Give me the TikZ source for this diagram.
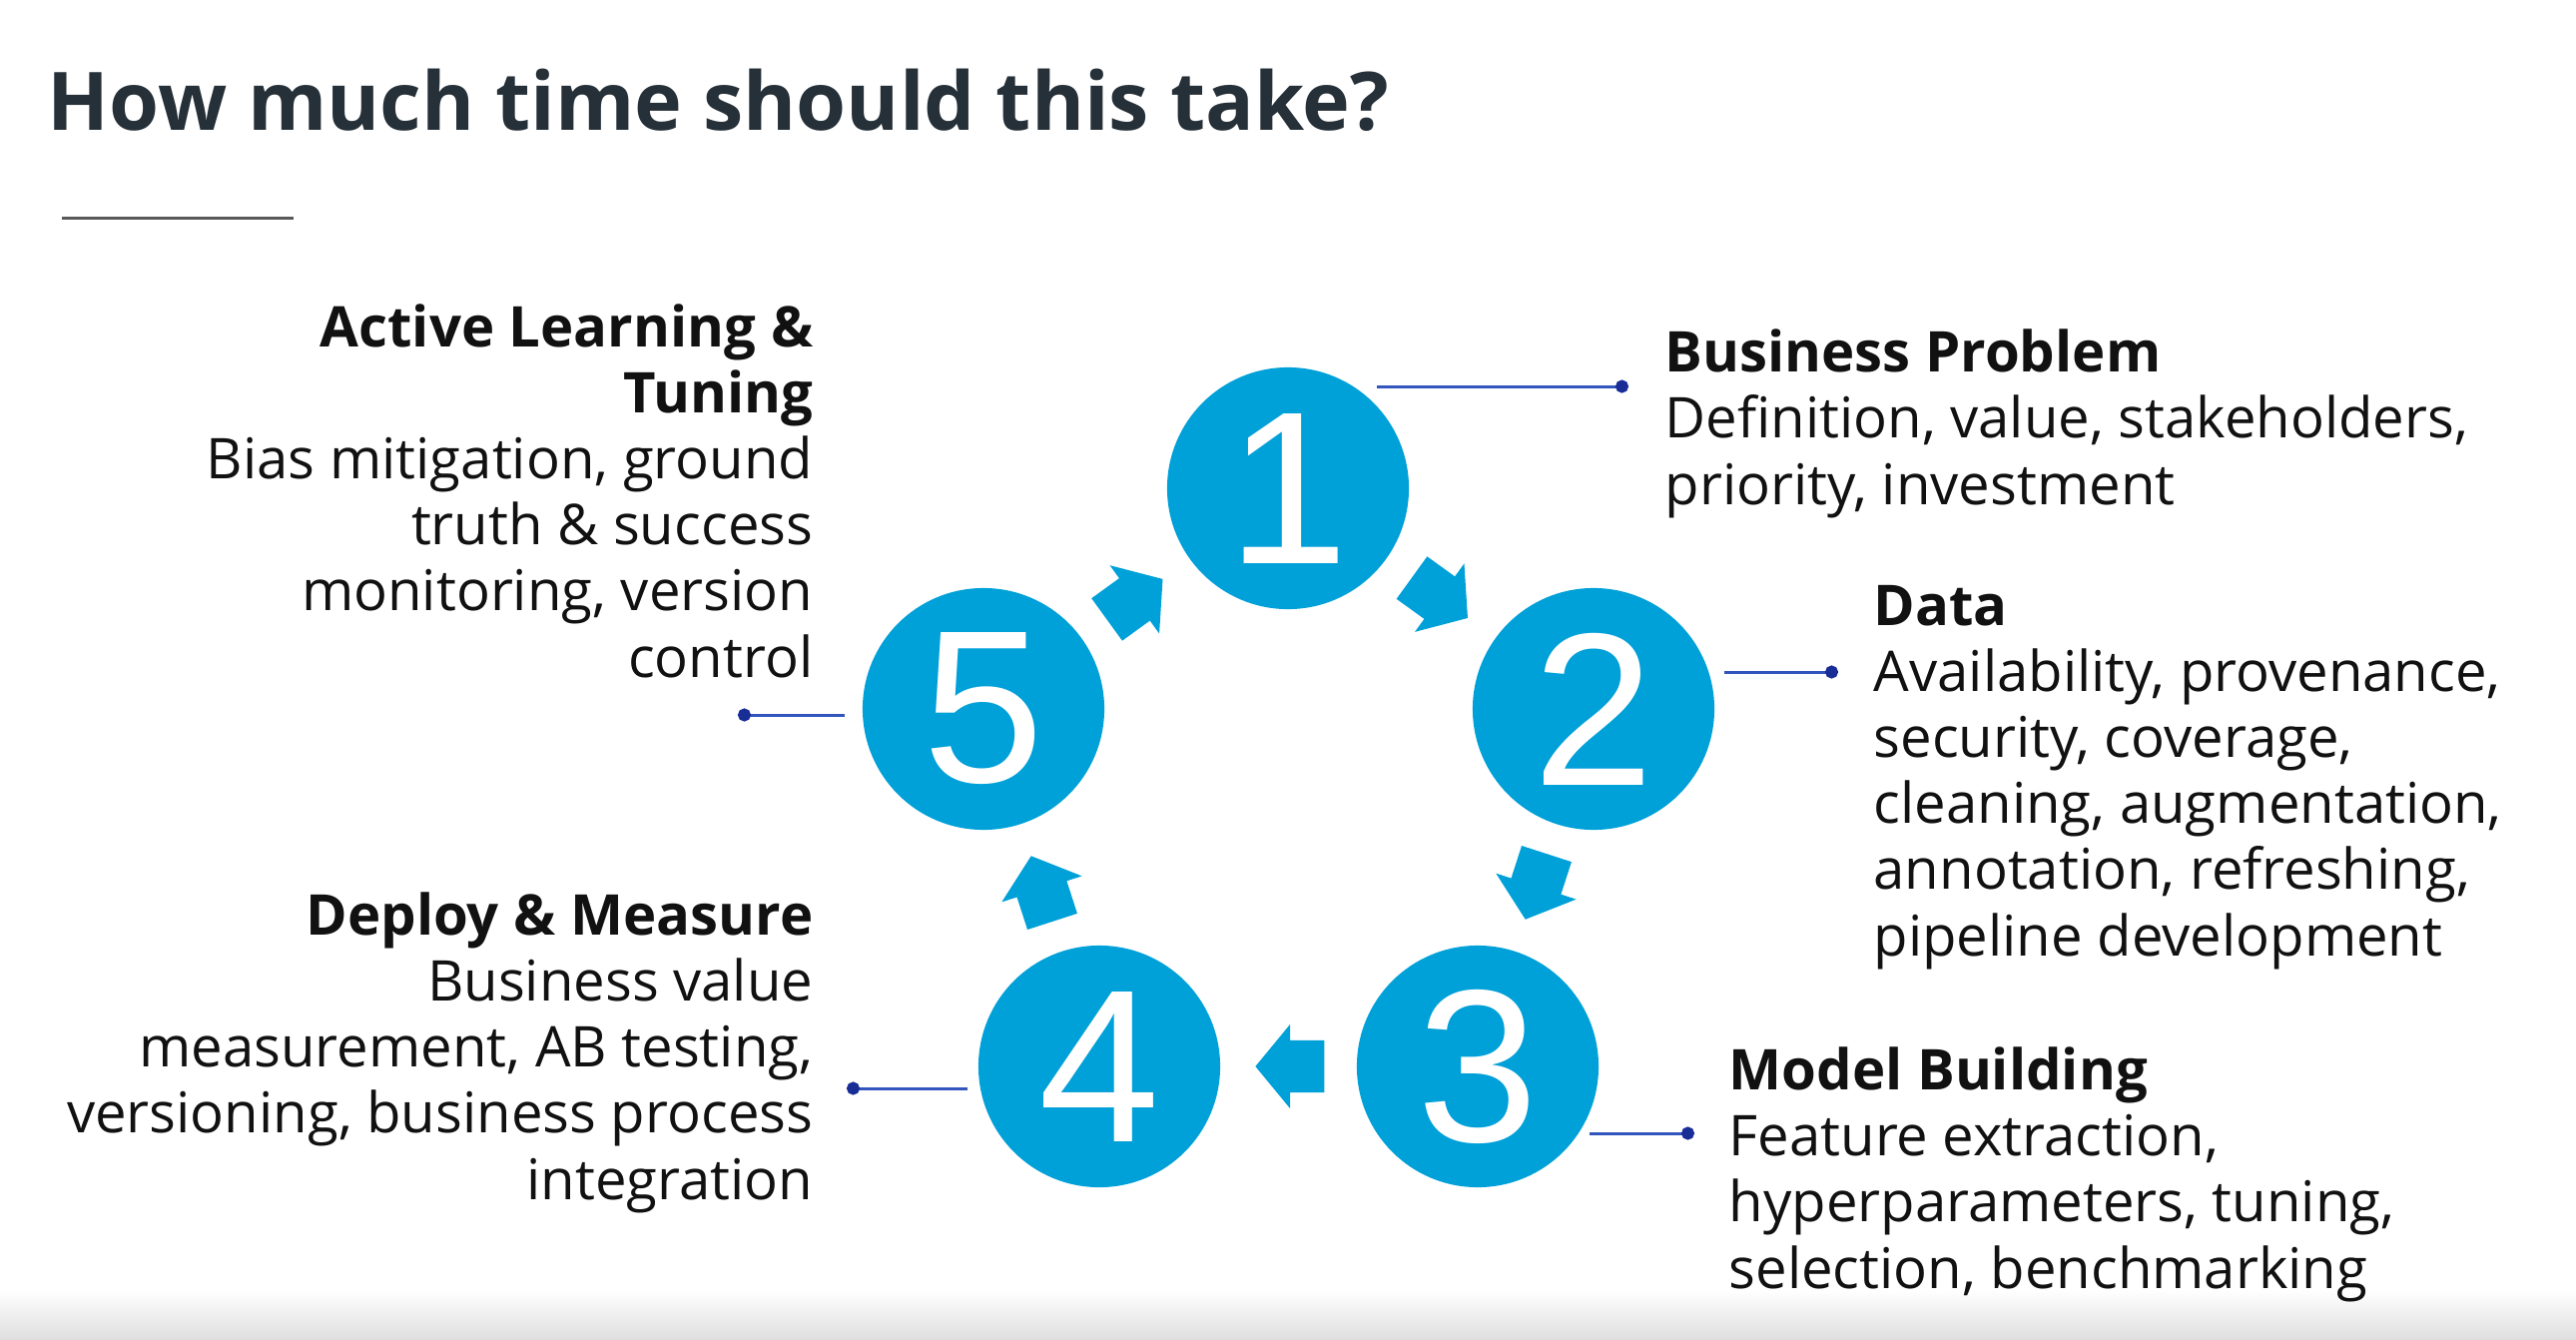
\documentclass[tikz,border=0pt]{standalone}
\usepackage{fontspec}
\setmainfont{Open Sans}
\newfontfamily\digitfont{Liberation Sans}
\usetikzlibrary{shapes.arrows,arrows.meta}
\definecolor{stepblue}{RGB}{0,160,216}
\definecolor{leadblue}{RGB}{50,85,190}
\definecolor{leaddot}{RGB}{25,45,150}
\definecolor{titlegray}{RGB}{38,48,56}
\definecolor{textblack}{RGB}{17,17,17}

\begin{document}
\begin{tikzpicture}[x=0.01cm, y=-0.01cm,
  stepcircle/.style={circle, fill=stepblue, minimum size=2.42cm, inner sep=0,
    text=white, font=\digitfont\fontsize{62}{62}\selectfont},
  flowarrow/.style={single arrow, fill=stepblue, inner xsep=0, inner ysep=0.255cm,
    minimum height=0.69cm, single arrow head extend=0.16cm,
    single arrow tip angle=101, sloped, allow upside down, pos=0.41},
  lead/.style={draw=leadblue, line width=0.03cm,
    -{Circle[length=0.13cm, color=leaddot]}},
  desc/.style={inner sep=0, text=textblack,
    font=\fontsize{16}{18.8}\selectfont}]
\useasboundingbox (0,0) rectangle (2580,1342);
\shade[top color=white, bottom color=black!13] (0,1292) rectangle (2580,1342);
%
\node[anchor=base west, inner sep=0, text=titlegray,
  font=\bfseries\fontsize{23}{28}\selectfont] (title) at (47,130)
  {How much time should this take?};
\draw[black!65, line width=0.03cm] (62,218) -- (294,218);
%
% the five steps
\foreach \n/\x/\y in {1/1290/489, 2/1596/710, 3/1480/1068, 4/1101/1068, 5/985/710} {
    \node[stepcircle] (c\n) at (\x,\y) {\n};
}
\foreach \a/\b in {1/2, 2/3, 3/4, 4/5, 5/1} {
    \path (c\a) -- node[flowarrow] (a\a\b) {} (c\b);
}
%
% leads to the texts
\coordinate (d1) at (1631,387);
\coordinate (d2) at (1841,673);
\coordinate (d3) at (1697,1135);
\coordinate (d4) at (848,1090);
\coordinate (d5) at (739,716);
\draw[lead] (c1.43 |- d1) -- (d1);
\draw[lead, shorten <=0.09cm] (c2.east |- d2) -- (d2);
\draw[lead] (c3.-23 |- d3) -- (d3);
\draw[lead, shorten <=0.1cm] (c4.west |- d4) -- (d4);
\draw[lead, shorten <=0.17cm] (c5.west |- d5) -- (d5);
%
% texts, placed by the base line of their last line
\node[desc, anchor=base west, align=left] (prob) at (1667,505)
  {\textbf{Business Problem}\\Definition, value, stakeholders,\\priority, investment};
\node[desc, anchor=base west, align=left] (data) at (1876,957)
  {\textbf{Data}\\Availability, provenance,\\security, coverage,\\cleaning, augmentation,\\annotation, refreshing,\\pipeline development};
\node[desc, anchor=base west, align=left] (model) at (1731,1290)
  {\textbf{Model Building}\\Feature extraction,\\hyperparameters, tuning,\\selection, benchmarking};
\node[desc, anchor=base east, align=right] (deploy) at (815,1201)
  {\textbf{Deploy \& Measure}\\Business value\\measurement, AB testing,\\versioning, business process\\integration};
\node[desc, anchor=base east, align=right] (active) at (815,678)
  {\textbf{Active Learning \&}\\\textbf{Tuning}\\Bias mitigation, ground\\truth \& success\\monitoring, version\\control};
\end{tikzpicture}
\end{document}
